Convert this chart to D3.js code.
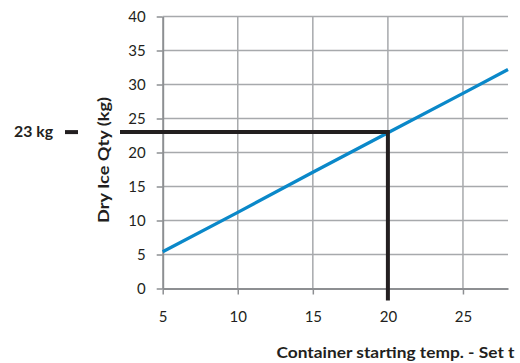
<!DOCTYPE html>
<html>
<head>
<meta charset="utf-8">
<script src="https://cdn.jsdelivr.net/npm/d3@7"></script>
<style>
  body { margin: 0; background: #fff; }
  text { font-family: Lato, "Open Sans", sans-serif; fill: #231f20; }
</style>
</head>
<body>
<div class="chart"></div>
<script>
// data
var temps = [5, 10, 15, 20, 25, 28]
var iceKg = [5.4, 11.2, 17.1, 22.9, 28.7, 32.2]
var xTicks = [5, 10, 15, 20, 25]
var yTicks = [0, 5, 10, 15, 20, 25, 30, 35, 40]
var setTemp = [20]
var setIce = [23]

var width = 520
var height = 363
var margin = { top: 16.5, right: 12, bottom: 74.5, left: 162.7 }

var svg = d3.select('.chart').append('svg')
  .attr('width', width)
  .attr('height', height)

var x = d3.scaleLinear()
  .domain([5, 28])
  .range([margin.left, width - margin.right])

var y = d3.scaleLinear()
  .domain([0, 40])
  .range([height - margin.bottom, margin.top])

// grid lines
svg.append('g')
  .selectAll('line.hgrid')
  .data(yTicks.slice(1))
  .enter().append('line')
  .attr('x1', x(5)).attr('x2', x(28))
  .attr('y1', d => y(d)).attr('y2', d => y(d))
  .attr('stroke', '#a7a9ac')
  .attr('stroke-width', 1.5)

svg.append('g')
  .selectAll('line.vgrid')
  .data(xTicks.slice(1))
  .enter().append('line')
  .attr('x1', d => x(d)).attr('x2', d => x(d))
  .attr('y1', y(0)).attr('y2', y(40))
  .attr('stroke', '#a7a9ac')
  .attr('stroke-width', 1.5)

// axes
var xAxis = svg.append('g')
  .attr('transform', 'translate(0,' + y(0) + ')')
  .call(d3.axisBottom(x).tickValues(xTicks).tickSize(6).tickPadding(16.5).tickSizeOuter(0))
var yAxis = svg.append('g')
  .attr('transform', 'translate(' + x(5) + ',0)')
  .call(d3.axisLeft(y).tickValues(yTicks).tickSize(6).tickPadding(11).tickSizeOuter(0))

;[xAxis, yAxis].forEach(g => {
  g.select('.domain').attr('stroke', '#8d8f92').attr('stroke-width', 2)
  g.selectAll('.tick line').attr('stroke', '#8d8f92').attr('stroke-width', 1.5)
  g.selectAll('.tick text')
    .attr('font-family', 'Lato, "Open Sans", sans-serif')
    .attr('font-size', 15)
    .attr('fill', '#231f20')
})

// the blue series
var line = d3.line()
  .x((d, i) => x(temps[i]))
  .y(d => y(d))

svg.append('path')
  .datum(iceKg)
  .attr('d', line)
  .attr('fill', 'none')
  .attr('stroke', '#0a88c9')
  .attr('stroke-width', 3.3)

// set point guide lines
svg.append('path')
  .attr('d', 'M' + 120 + ',' + y(setIce[0]) +
    'H' + x(setTemp[0]) +
    'V' + (y(0) + 12))
  .attr('fill', 'none')
  .attr('stroke', '#231f20')
  .attr('stroke-width', 4)

svg.append('line')
  .attr('x1', 65).attr('x2', 78)
  .attr('y1', y(setIce[0])).attr('y2', y(setIce[0]))
  .attr('stroke', '#231f20')
  .attr('stroke-width', 4)

svg.append('text')
  .attr('x', 14)
  .attr('y', y(setIce[0]))
  .attr('dy', '0.35em')
  .attr('font-size', 15)
  .attr('font-weight', 'bold')
  .attr('textLength', 39)
  .attr('lengthAdjust', 'spacingAndGlyphs')
  .text(setIce[0] + ' kg')

// axis titles
svg.append('text')
  .attr('transform', 'translate(109,' + 160 + ') rotate(-90)')
  .attr('text-anchor', 'middle')
  .attr('font-size', 15)
  .attr('font-weight', 'bold')
  .attr('textLength', 126)
  .attr('lengthAdjust', 'spacingAndGlyphs')
  .text('Dry Ice Qty (kg)')

svg.append('text')
  .attr('x', 276.5)
  .attr('y', 358)
  .attr('font-size', 15)
  .attr('font-weight', 'bold')
  .attr('textLength', 238)
  .attr('lengthAdjust', 'spacingAndGlyphs')
  .text('Container starting temp. - Set t')
</script>
</body>
</html>
